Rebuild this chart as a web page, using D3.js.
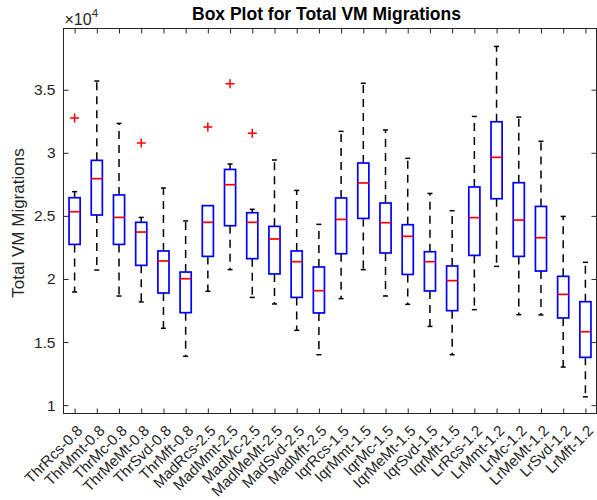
<!DOCTYPE html>
<html><head><meta charset="utf-8">
<script src="https://cdn.jsdelivr.net/npm/d3@7"></script>
<style>body{margin:0;background:#fff;} svg{display:block;font-family:"Liberation Sans",Arial,Helvetica,sans-serif;}</style>
</head><body>
<svg id="c" width="597" height="500"></svg>
<script>
const categories = ["ThrRcs-0.8","ThrMmt-0.8","ThrMc-0.8","ThrMeMt-0.8","ThrSvd-0.8","ThrMft-0.8",
  "MadRcs-2.5","MadMmt-2.5","MadMc-2.5","MadMeMt-2.5","MadSvd-2.5","MadMft-2.5",
  "IqrRcs-1.5","IqrMmt-1.5","IqrMc-1.5","IqrMeMt-1.5","IqrSvd-1.5","IqrMft-1.5",
  "LrRcs-1.2","LrMmt-1.2","LrMc-1.2","LrMeMt-1.2","LrSvd-1.2","LrMft-1.2"];
const whiskerLow  = [18970,20710,18650,18180,16090,13870, 19020,20740,18540,18020,15930,14000, 18440,20740,18650,17990,16240,14000, 17570,21000,17170,17150,13020,10660];
const q1          = [22740,25070,22740,21080,18890,17330, 21790,24220,21610,20400,18540,17310, 22000,24800,22060,20360,19050,17490, 21870,26360,21790,20630,16910,13790];
const median      = [25330,27950,24880,23720,21430,20020, 24490,27470,24490,23170,21370,19070, 24720,27610,24460,23380,21370,19870, 24860,29640,24670,23270,18780,15820];
const q3          = [26440,29400,26660,24490,22220,20550, 25810,28680,25250,24170,22220,20950, 26420,29190,26020,24300,22160,21030, 27290,32460,27630,25750,20210,18200];
const whiskerHigh = [26920,35690,32330,24880,27210,24600, 25810,29110,25520,29430,27020,24330, 31700,35510,31810,29560,26780,25410, 32880,38430,32830,30910,24960,21320];
const outliers    = [[32760],[],[],[30780],[],[], [32040],[35470],[31540],[],[],[], [],[],[],[],[],[], [],[],[],[],[],[]];
const yTicks = [10000,15000,20000,25000,30000,35000];
const yTickLabels = ["1","1.5","2","2.5","3","3.5"];

const svg = d3.select("#c");
const L = 63.5, R = 596.5, T = 28.5, B = 413.5;
const axisColor = "#262626";
const x = d3.scaleLinear().domain([0.5, categories.length + 0.5]).range([L, R]);
const y = d3.scaleLinear().domain([9340, 39850]).range([B, T]);
const bw = 0.5 * (x(2) - x(1));
const capW = 5;

const g = svg.append("g");
// Axes box
g.append("rect").attr("x", L).attr("y", T).attr("width", R - L).attr("height", B - T)
  .attr("fill", "none").attr("stroke", axisColor).attr("stroke-width", 1);

// Bottom axis ticks + labels
const xb = d3.axisBottom(x).tickValues(d3.range(1, categories.length + 1))
  .tickFormat(d => categories[d - 1]).tickSizeInner(-5).tickSizeOuter(0);
const gx = g.append("g").attr("transform", `translate(0,${B})`).call(xb);
gx.select(".domain").remove();
gx.selectAll("line").attr("stroke", axisColor);
gx.selectAll("text").attr("fill", axisColor).style("font-size", "15px")
  .attr("text-anchor", "end").attr("transform", "rotate(-45)")
  .attr("x", -7).attr("y", 13.5).attr("dy", "0.35em");
// Top ticks
const xt = d3.axisTop(x).tickValues(d3.range(1, categories.length + 1)).tickFormat("").tickSizeInner(-5).tickSizeOuter(0);
const gxt = g.append("g").attr("transform", `translate(0,${T})`).call(xt);
gxt.select(".domain").remove();
gxt.selectAll("line").attr("stroke", axisColor);

// Left axis
const yl = d3.axisLeft(y).tickValues(yTicks).tickFormat((d, i) => yTickLabels[i]).tickSizeInner(-5).tickSizeOuter(0).tickPadding(8);
const gy = g.append("g").attr("transform", `translate(${L},0)`).call(yl);
gy.select(".domain").remove();
gy.selectAll("line").attr("stroke", axisColor);
gy.selectAll("text").attr("fill", axisColor).style("font-size", "15.5px");
// Right ticks
const yr = d3.axisRight(y).tickValues(yTicks).tickFormat("").tickSizeInner(-5).tickSizeOuter(0);
const gyr = g.append("g").attr("transform", `translate(${R},0)`).call(yr);
gyr.select(".domain").remove();
gyr.selectAll("line").attr("stroke", axisColor);

// Boxes
const data = categories.map((c, i) => ({i: i + 1, lo: whiskerLow[i], q1: q1[i], med: median[i], q3: q3[i], hi: whiskerHigh[i], out: outliers[i]}));
const bg = g.selectAll(".bx").data(data).join("g").attr("class", "bx");
// whiskers
bg.filter(d => d.hi > d.q3).append("line").attr("x1", d => x(d.i)).attr("x2", d => x(d.i))
  .attr("y1", d => y(d.q3)).attr("y2", d => y(d.hi))
  .attr("stroke", "#000").attr("stroke-width", 1.5).attr("stroke-dasharray", "8,6");
bg.filter(d => d.lo < d.q1).append("line").attr("x1", d => x(d.i)).attr("x2", d => x(d.i))
  .attr("y1", d => y(d.q1)).attr("y2", d => y(d.lo))
  .attr("stroke", "#000").attr("stroke-width", 1.5).attr("stroke-dasharray", "8,6");
// caps
bg.filter(d => d.hi > d.q3).append("line").attr("x1", d => x(d.i) - capW / 2).attr("x2", d => x(d.i) + capW / 2)
  .attr("y1", d => y(d.hi)).attr("y2", d => y(d.hi)).attr("stroke", "#000").attr("stroke-width", 1.5);
bg.filter(d => d.lo < d.q1).append("line").attr("x1", d => x(d.i) - capW / 2).attr("x2", d => x(d.i) + capW / 2)
  .attr("y1", d => y(d.lo)).attr("y2", d => y(d.lo)).attr("stroke", "#000").attr("stroke-width", 1.5);
// box
bg.append("rect").attr("x", d => x(d.i) - bw / 2).attr("width", bw)
  .attr("y", d => y(d.q3)).attr("height", d => y(d.q1) - y(d.q3))
  .attr("fill", "none").attr("stroke", "#0000ff").attr("stroke-width", 1.7);
// median
bg.append("line").attr("x1", d => x(d.i) - bw / 2).attr("x2", d => x(d.i) + bw / 2)
  .attr("y1", d => y(d.med)).attr("y2", d => y(d.med)).attr("stroke", "#ff0000").attr("stroke-width", 1.7);
// outliers
bg.each(function(d){
  d3.select(this).selectAll(".o").data(d.out).join("path").attr("class", "o")
    .attr("d", v => `M${x(d.i) - 4.5},${y(v)}h9M${x(d.i)},${y(v) - 4.5}v9`)
    .attr("stroke", "#ff0000").attr("stroke-width", 1.5).attr("fill", "none");
});

// Exponent
const ex = svg.append("text").attr("x", L + 1).attr("y", 25).attr("fill", axisColor).style("font-size", "16px");
ex.append("tspan").text("\u00d710");
ex.append("tspan").attr("dy", -8).style("font-size", "11.5px").text("4");

// Title
svg.append("text").attr("x", (L + R) / 2 - 3.5).attr("y", 19.5).attr("text-anchor", "middle")
  .attr("fill", "#000").style("font-size", "17.5px").style("font-weight", "bold")
  .text("Box Plot for Total VM Migrations");

// Y label
svg.append("text").attr("transform", `translate(24,${(T + B) / 2 + 2}) rotate(-90)`).attr("text-anchor", "middle")
  .attr("fill", axisColor).style("font-size", "17px").text("Total VM Migrations");
</script>
</body></html>
